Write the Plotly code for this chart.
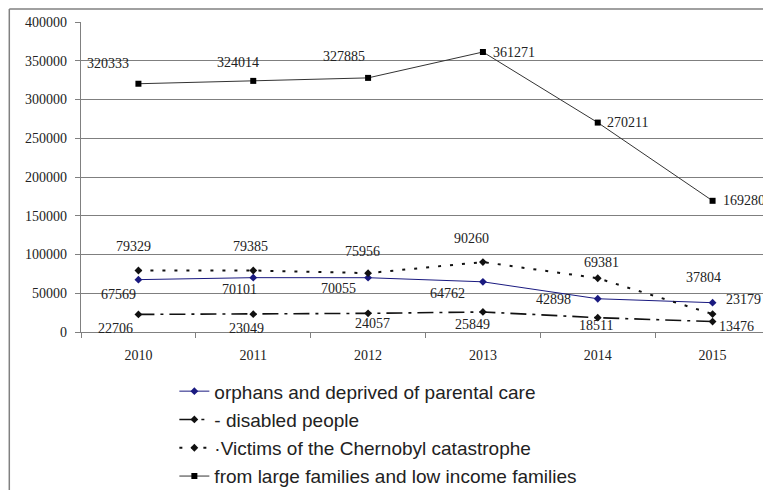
import plotly.graph_objects as go

years = ["2010", "2011", "2012", "2013", "2014", "2015"]
orphans = [67569, 70101, 70055, 64762, 42898, 37804]
disabled = [22706, 23049, 24057, 25849, 18511, 13476]
chernobyl = [79329, 79385, 75956, 90260, 69381, 23179]
large_fam = [320333, 324014, 327885, 361271, 270211, 169280]

names = [
    "orphans and deprived of parental care",
    "- disabled people",
    "\u00b7Victims of the Chernobyl catastrophe",
    "from large families and low income families",
]

# label offsets (pixels, dx right, dy down) per point
off_orph = [(-20, 15), (-14, 12), (-30, 11), (-35, 12), (-44, 1), (-9, -25)]
off_dis = [(-23, 14), (-7, 14), (4, 10), (-10, 13), (-2, 8), (24, 5)]
off_cher = [(-5, -24), (-3, -24), (-6, -22), (-11, -24), (4, -16), (31, -15)]
off_large = [(-30, -20), (-15, -18), (-24, -21), (31, 0), (30, 0), (31, 0)]

PAGE = 8  # default page body margin
W, H = 771 - PAGE, 490 - PAGE
L = 80.5 - PAGE
T = 21.7 - PAGE
R = W - (770.5 - PAGE)
B = H - (331.7 - PAGE)
PW, PH = W - L - R, H - T - B

fig = go.Figure()
idx = list(range(len(years)))
fig.add_trace(go.Scatter(x=idx, y=orphans, name=names[0], mode="lines+markers",
                         line=dict(color="#1a1a80", width=1),
                         marker=dict(symbol="diamond", size=6, color="#1a1a80"),
                         legendgroup="a"))
fig.add_trace(go.Scatter(x=idx, y=disabled, name=names[1], mode="lines+markers",
                         line=dict(color="#111111", width=1.6, dash="16px,6px,3px,6px"),
                         marker=dict(symbol="diamond", size=6, color="#111111"),
                         legendgroup="b"))
fig.add_trace(go.Scatter(x=idx, y=chernobyl, name=names[2], mode="lines+markers",
                         line=dict(color="#111111", width=2, dash="3px,9px"),
                         marker=dict(symbol="diamond", size=6, color="#111111"),
                         legendgroup="c"))
fig.add_trace(go.Scatter(x=idx, y=large_fam, name=names[3], mode="lines+markers",
                         line=dict(color="#333333", width=1),
                         marker=dict(symbol="square", size=6, color="#000000"),
                         legendgroup="d"))

ann = []
for vals, offs in [(orphans, off_orph), (disabled, off_dis), (chernobyl, off_cher), (large_fam, off_large)]:
    for i, (v, (dx, dy)) in enumerate(zip(vals, offs)):
        ann.append(dict(x=i, y=v, xref="x", yref="y", text=str(v), showarrow=False,
                        xshift=dx, yshift=-dy,
                        font=dict(family="Liberation Serif", size=14, color="#222222")))

def px_x(p):  # page pixel -> paper
    return (p - PAGE - L) / PW

def px_y(p):
    return (H - B - (p - PAGE)) / PH

shapes = [
    dict(type="line", xref="paper", yref="paper", x0=px_x(8.7), x1=px_x(771), y0=px_y(8.7), y1=px_y(8.7),
         line=dict(color="#808080", width=1.5)),
    dict(type="line", xref="paper", yref="paper", x0=px_x(8.7), x1=px_x(8.7), y0=px_y(8.7), y1=px_y(490),
         line=dict(color="#808080", width=1.5)),
]

fig.update_layout(
    width=W, height=H,
    margin=dict(l=L, r=R, t=T, b=B, autoexpand=False),
    font=dict(family="Liberation Serif", size=14, color="#222222"),
    paper_bgcolor="white", plot_bgcolor="white",
    showlegend=True,
    legend=dict(x=px_x(174), y=px_y(372), xanchor="left", yanchor="top",
                font=dict(family="Liberation Sans", size=19, color="#222222"),
                tracegroupgap=0.6, bgcolor="rgba(0,0,0,0)"),
    annotations=ann,
    shapes=shapes,
    xaxis=dict(type="linear", range=[-0.5, 5.5], tickmode="array", tickvals=idx, ticktext=years,
               showgrid=False, showline=True, linecolor="#808080", linewidth=1.3,
               ticks="", zeroline=False, automargin=False, ticklabelstandoff=10,
               tickfont=dict(family="Liberation Serif", size=14, color="#222222")),
    xaxis2=dict(overlaying="x", range=[-0.5, 5.5], tickmode="array",
                tickvals=[i - 0.5 for i in idx] + [5.5], ticktext=[""] * 7,
                ticks="outside", ticklen=5, tickcolor="#808080", showgrid=False,
                showline=False, side="bottom", anchor="y", zeroline=False),
    yaxis=dict(range=[0, 400000], dtick=50000, showgrid=True, gridcolor="#7f7f7f", gridwidth=1.3,
               showline=True, linecolor="#808080", linewidth=1.3, ticks="outside", ticklen=5,
               tickcolor="#808080", zeroline=False, tickformat="d", ticklabelstandoff=5,
               automargin=False,
               tickfont=dict(family="Liberation Serif", size=14, color="#222222")),
)
fig.add_trace(go.Scatter(x=[None], y=[None], xaxis="x2", showlegend=False, hoverinfo="skip"))

fig.write_html("out.html")
